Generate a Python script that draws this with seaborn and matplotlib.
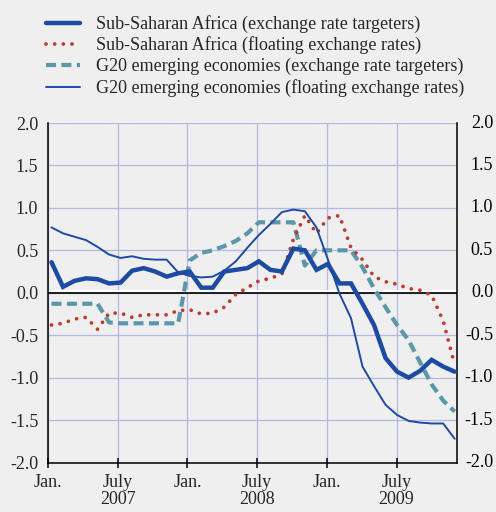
import numpy as np
import pandas as pd
import matplotlib
matplotlib.use("Agg")
import matplotlib.pyplot as plt
import matplotlib.transforms as mtransforms
import seaborn as sns

# ---- data (monthly, Jan 2007 - Dec 2009) ----
ssa_ert = [0.36, 0.07, 0.14, 0.17, 0.16, 0.11, 0.12, 0.26, 0.29, 0.25, 0.19, 0.23,
           0.25, 0.06, 0.06, 0.25, 0.27, 0.29, 0.37, 0.27, 0.25, 0.52, 0.50, 0.27,
           0.34, 0.11, 0.11, -0.13, -0.38, -0.77, -0.93, -1.00, -0.92, -0.79, -0.87, -0.93]
ssa_float = [-0.38, -0.36, -0.31, -0.29, -0.43, -0.24, -0.24, -0.29, -0.26, -0.26, -0.26, -0.21,
             -0.20, -0.25, -0.24, -0.17, -0.02, 0.06, 0.14, 0.17, 0.22, 0.63, 0.91, 0.70,
             0.88, 0.91, 0.53, 0.39, 0.19, 0.13, 0.10, 0.05, 0.03, -0.03, -0.33, -0.85]
g20_ert = [-0.13, -0.13, -0.13, -0.13, -0.13, -0.35, -0.36, -0.36, -0.36, -0.36, -0.36, -0.36,
           0.38, 0.47, 0.50, 0.55, 0.61, 0.70, 0.83, 0.83, 0.83, 0.83, 0.32, 0.50,
           0.50, 0.50, 0.50, 0.30, 0.05, -0.17, -0.38, -0.56, -0.82, -1.08, -1.27, -1.40]
g20_float = [0.77, 0.70, 0.66, 0.62, 0.54, 0.45, 0.41, 0.43, 0.40, 0.39, 0.39, 0.24,
             0.20, 0.18, 0.19, 0.26, 0.37, 0.53, 0.68, 0.81, 0.95, 0.98, 0.96, 0.77,
             0.39, -0.01, -0.30, -0.87, -1.10, -1.32, -1.44, -1.51, -1.53, -1.54, -1.54, -1.72]

series_labels = [
    "Sub-Saharan Africa (exchange rate targeters)",
    "Sub-Saharan Africa (floating exchange rates)",
    "G20 emerging economies (exchange rate targeters)",
    "G20 emerging economies (floating exchange rates)",
]
x_tick_labels = ["Jan.", "July\n2007", "Jan.", "July\n2008", "Jan.", "July\n2009"]
y_ticks = [-2.0, -1.5, -1.0, -0.5, 0.0, 0.5, 1.0, 1.5, 2.0]

# month positions (months since Jan 2007)
n = len(ssa_ert)
months = np.linspace(0.3, 35.0, n)

# ---- style ----
sns.set_theme(style="white")
plt.rcParams["font.family"] = ["Liberation Serif", "DejaVu Serif"]
plt.rcParams["axes.unicode_minus"] = False

FS = 13
BG = "#efefef"
GRID = "#b3b7e4"
BLUE = "#1d4aa3"
RED = "#c0392b"
TEAL = "#5b97a9"

fig = plt.figure(figsize=(4.96, 5.12), dpi=100, facecolor=BG)
ax = fig.add_axes([48/496, 1-462.5/512, (457-48)/496, (462.5-123)/512])
ax.set_facecolor(BG)

df = pd.DataFrame({"month": months, "ssa_ert": ssa_ert, "ssa_float": ssa_float,
                   "g20_ert": g20_ert, "g20_float": g20_float})

sns.lineplot(data=df, x="month", y="ssa_ert", ax=ax, color=BLUE, lw=3.2,
             label=series_labels[0], zorder=5, solid_joinstyle="miter")
sns.lineplot(data=df, x="month", y="ssa_float", ax=ax, color=RED, lw=2.7,
             label=series_labels[1], zorder=4,
             linestyle=(0, (0.01, 2.3)), dash_capstyle="round")
sns.lineplot(data=df, x="month", y="g20_ert", ax=ax, color=TEAL, lw=3.0,
             label=series_labels[2], zorder=3,
             linestyle=(0, (2.4, 1.3)), dash_capstyle="butt")
sns.lineplot(data=df, x="month", y="g20_float", ax=ax, color=BLUE, lw=1.4,
             label=series_labels[3], zorder=4)

ax.set_xlim(0, 35.2)
ax.set_ylim(-2, 2)
ax.set_xticks([0, 6, 12, 18, 24, 30])
ax.set_xticklabels(x_tick_labels, fontsize=FS, linespacing=0.95)
ax.set_yticks(y_ticks)
ax.set_yticklabels([f"{v:.1f}" for v in y_ticks], fontsize=FS)
ax.set_xlabel("")
ax.set_ylabel("")

ax.grid(True, color=GRID, lw=0.9, zorder=0)
ax.set_axisbelow(True)

for s in ["left", "right", "bottom"]:
    ax.spines[s].set_visible(True)
    ax.spines[s].set_color("black")
    ax.spines[s].set_linewidth(1.1)
ax.spines["top"].set_visible(False)

ax.tick_params(axis="x", direction="inout", length=7, width=1.1, color="black",
               pad=5, bottom=True, labelsize=FS)
ax.tick_params(axis="y", length=0, pad=7, left=True, right=False, labelsize=FS)

# right-hand labels (right-aligned, mirroring the left axis)
rtrans = mtransforms.blended_transform_factory(ax.transAxes, ax.transData)
for v in y_ticks:
    ax.text(1 + 36/409, v, f"{v:.1f}", transform=rtrans, ha="right", va="center",
            fontsize=FS, color="black", clip_on=False)

# zero line (black with a thin white highlight above)
white_tr = mtransforms.offset_copy(ax.transData, fig=fig, x=0, y=1.6, units="dots")
black_tr = mtransforms.offset_copy(ax.transData, fig=fig, x=0, y=-0.6, units="dots")
ax.plot([0, 35.2], [0, 0], color="white", lw=1.5, transform=white_tr, zorder=1.5)
ax.plot([0, 35.2], [0, 0], color="black", lw=1.2, transform=black_tr, zorder=1.6)

# legend
handles, labels = ax.get_legend_handles_labels()
ax.get_legend().remove()
leg = fig.legend(handles, labels, loc="upper left",
                 bbox_to_anchor=(46/496, 1-15/512), frameon=False, fontsize=FS,
                 handlelength=1.9, handletextpad=0.85, labelspacing=0.2,
                 borderpad=0, borderaxespad=0)

fig.savefig("out.png", dpi=100, facecolor=BG)
